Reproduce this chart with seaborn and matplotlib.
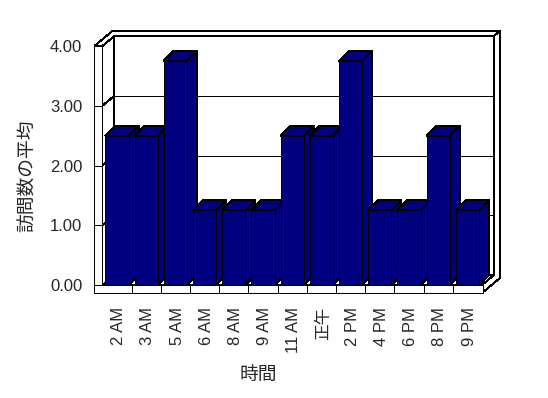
import matplotlib
matplotlib.use("Agg")
import matplotlib.pyplot as plt
import matplotlib.transforms as mtransforms
from matplotlib.patches import Polygon
from matplotlib.lines import Line2D
import seaborn as sns

categories = ["2 AM", "3 AM", "5 AM", "6 AM", "8 AM", "9 AM", "11 AM",
              "正午", "2 PM", "4 PM", "6 PM", "8 PM", "9 PM"]
values = [2.5, 2.5, 3.75, 1.25, 1.25, 1.25, 2.5, 2.5, 3.75, 1.25, 1.25, 2.5, 1.25]
yticks = [0, 1, 2, 3, 4]
ytick_labels = ["0.00", "1.00", "2.00", "3.00", "4.00"]
xlabel = "時間"
ylabel = "訪問数の平均"

sns.set_style("white")
plt.rcParams["font.family"] = ["Liberation Sans", "Noto Sans CJK JP", "DejaVu Sans"]

W, H, DPI = 548, 398, 100
fig = plt.figure(figsize=(W / DPI, H / DPI), dpi=DPI)
fig.patch.set_facecolor("white")

# front plane of the plot (pixels from top-left)
px_left, px_right, px_top, px_bottom = 102.4, 482.0, 46.0, 285.0
ax = fig.add_axes([px_left / W, (H - px_bottom) / H,
                   (px_right - px_left) / W, (px_bottom - px_top) / H])

navy = "#000080"
lw = 0.72
sns.barplot(x=categories, y=values, color=navy, saturation=1, width=0.8,
            edgecolor="black", linewidth=lw, ax=ax)
ax.set_xlim(-0.5, len(categories) - 0.5)
ax.set_ylim(0, 4)
ax.set_yticks(yticks)
ax.set_yticklabels(ytick_labels)
ax.set_xlabel("")
ax.set_ylabel("")
for s in ax.spines.values():
    s.set_visible(False)
ax.patch.set_visible(False)
ax.tick_params(axis="y", length=0, pad=14.5, labelsize=12)
ax.tick_params(axis="x", length=0, pad=16.0, labelsize=12, labelrotation=90)
shift = mtransforms.ScaledTranslation(1.7 / DPI, 0, fig.dpi_scale_trans)
for lab in ax.get_xticklabels():
    lab.set_transform(lab.get_transform() + shift)

ident = mtransforms.IdentityTransform()
T = ax.transData


def P(x, y):
    return T.transform((x, y))


X0, Y0 = P(-0.5, 0)
X1, Y4 = P(len(categories) - 0.5, 4)
t = 8.0            # wall thickness
d1 = (12.0, 10.0)  # depth to back-wall front
d2 = (18.0, 15.0)  # depth to back-wall back


def poly(pts, z, fc="white"):
    p = Polygon(pts, closed=True, facecolor=fc, edgecolor="black", linewidth=lw,
                transform=ident, zorder=z, clip_on=False, antialiased=False)
    ax.add_patch(p)


def line(xs, ys, z):
    ln = Line2D(xs, ys, color="black", linewidth=lw, transform=ident, zorder=z,
                clip_on=False, antialiased=False)
    ax.add_line(ln)


# back wall front face
poly([(X0 + d1[0], Y0 + d1[1]), (X1 + d1[0], Y0 + d1[1]),
      (X1 + d1[0], Y4 + d1[1]), (X0 + d1[0], Y4 + d1[1])], 1)
# top strip of walls
poly([(X0 - t, Y4), (X0, Y4), (X0 + d1[0], Y4 + d1[1]), (X1 + d1[0], Y4 + d1[1]),
      (X1 + d2[0], Y4 + d2[1]), (X0 - t + d2[0], Y4 + d2[1])], 1)
# right side face (floor + back wall thickness)
poly([(X1, Y0 - t), (X1 + d2[0], Y0 - t + d2[1]), (X1 + d2[0], Y4 + d2[1]),
      (X1 + d1[0], Y4 + d1[1]), (X1 + d1[0], Y0 + d1[1]), (X1, Y0)], 1)
# gridlines on back wall
for yv in yticks[1:-1]:
    _, yy = P(0, yv)
    line([X0 + d1[0], X1 + d1[0]], [yy + d1[1], yy + d1[1]], 2)
# floor top
poly([(X0, Y0), (X1, Y0), (X1 + d1[0], Y0 + d1[1]), (X0 + d1[0], Y0 + d1[1])], 2)
# left wall inner face
poly([(X0, Y0), (X0, Y4), (X0 + d1[0], Y4 + d1[1]), (X0 + d1[0], Y0 + d1[1])], 2)
for yv in yticks[1:-1]:
    _, yy = P(0, yv)
    line([X0, X0 + d1[0]], [yy, yy + d1[1]], 3)
# left slab front face
poly([(X0 - t, Y0 - t), (X0, Y0 - t), (X0, Y4), (X0 - t, Y4)], 4)
for yv in yticks[1:-1]:
    _, yy = P(0, yv)
    line([X0 - t, X0], [yy, yy], 5)
# floor slab front face
poly([(X0 - t, Y0 - t), (X1 + 1, Y0 - t), (X1 + 1, Y0), (X0 - t, Y0)], 4)
for k in range(1, len(categories)):
    xx, _ = P(k - 0.5, 0)
    line([xx, xx], [Y0 - t, Y0], 5)

# bars: 3-D top and side faces derived from the seaborn patches
bd = (10.0, 10.0)
for i, bar in enumerate(ax.patches[:len(categories)]):
    bx, by = bar.get_x(), bar.get_y()
    bw, bh = bar.get_width(), bar.get_height()
    bl = P(bx, by)
    br = P(bx + bw, by)
    tl = P(bx, by + bh)
    tr = P(bx + bw, by + bh)
    z = 10 + i
    bar.set_zorder(z + 0.5)
    bar.set_antialiased(False)
    poly([tl, tr, (tr[0] + bd[0], tr[1] + bd[1]), (tl[0] + bd[0], tl[1] + bd[1])], z, navy)
    poly([br, tr, (tr[0] + bd[0], tr[1] + bd[1]), (br[0] + bd[0], br[1] + bd[1])], z, navy)

fig.text(258 / W, 1 - 375.5 / H, xlabel, ha="center", va="center", fontsize=13.5)
fig.text(28.5 / W, 1 - 175.5 / H, ylabel, ha="center", va="center", rotation=90,
         fontsize=13.5)

fig.savefig("out.png", dpi=DPI, facecolor="white")
